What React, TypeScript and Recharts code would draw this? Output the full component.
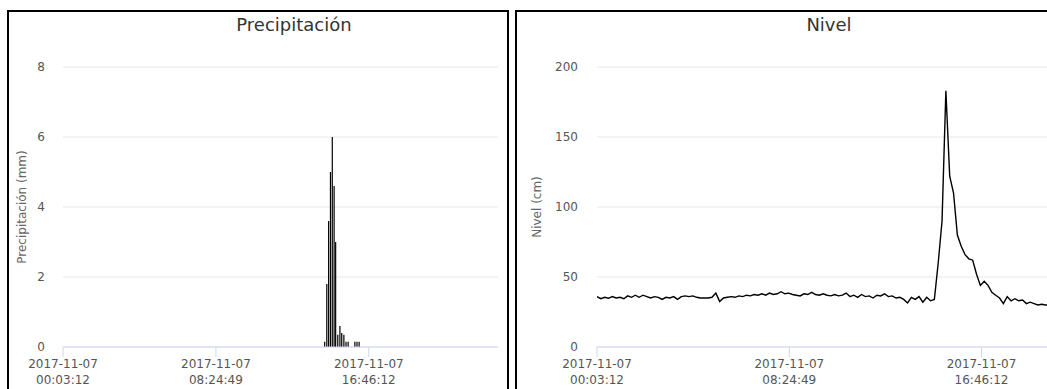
import React from 'react';
import { BarChart, Bar, LineChart, Line, XAxis, YAxis, CartesianGrid } from 'recharts';

// seconds since midnight, 2017-11-07
const START = 192; // 00:03:12
const END = 85800;
const X_TICKS = [192, 30289, 60372];
const TICK_DATE = '2017-11-07';

// precipitation (mm), only the non-zero records
const RAIN_TIMES = ['14:22', '14:29', '14:35', '14:41', '14:47', '14:53', '14:58', '15:05', '15:12', '15:18', '15:25', '15:32', '15:39', '16:01', '16:08', '16:15'];
const RAIN_MM = [0.15, 1.8, 3.6, 5.0, 6.0, 4.6, 3.0, 0.35, 0.6, 0.4, 0.35, 0.15, 0.15, 0.15, 0.15, 0.15];

// water level (cm), one reading every 10 min from 00:03:12
const LEVEL_STEP = 600;
const LEVEL_CM = [
  36, 34.5, 35.5, 34.8, 36, 35, 35.5, 34.5, 36.5, 35.5,
  37, 35.5, 37, 36, 35, 36, 35.5, 34, 35.5, 35,
  36, 34, 36, 36.5, 36, 36.5, 35.5, 35, 35, 35,
  35.5, 38.5, 32.5, 35, 35.5, 36, 35.5, 36.5, 36, 37,
  36.5, 37.5, 37, 38, 37, 38.5, 37.5, 38, 39.5, 38,
  38.5, 37.5, 37, 36.5, 38, 37.5, 39, 37.5, 37, 38,
  37, 36.5, 37.5, 36.5, 37, 38.5, 36, 37, 35.5, 37.5,
  36, 36.5, 35, 37, 36.5, 38, 36, 36.5, 35, 35.5,
  34, 31.5, 35.5, 34, 36, 32, 35.5, 33, 34, 60,
  90, 183, 122, 110, 80, 72, 66, 63, 62, 52,
  44, 47, 44, 39, 37, 35, 31, 36, 33, 34.5,
  33, 33.5, 31, 32, 31, 30, 30.5, 30, 30, 31, 30,
];

const toSec = (hm: string) => {
  const [h, m] = hm.split(':').map(Number);
  return h * 3600 + m * 60;
};

const rainData = RAIN_TIMES.map((t, i) => ({ t: toSec(t), mm: RAIN_MM[i] }));
const levelData = LEVEL_CM.map((v, i) => ({ t: START + i * LEVEL_STEP, cm: v }));

const pad = (n: number) => String(n).padStart(2, '0');
const fmtTime = (s: number) =>
  `${pad(Math.floor(s / 3600))}:${pad(Math.floor((s % 3600) / 60))}:${pad(s % 60)}`;

const TimeTick = ({ x, y, payload }: any) => (
  <text x={x} y={y} textAnchor="middle" fill="#555" fontSize={12}>
    <tspan x={x} dy={9}>{TICK_DATE}</tspan>
    <tspan x={x} dy={16}>{fmtTime(payload.value)}</tspan>
  </text>
);

const FONT = '"DejaVu Sans", sans-serif';
const margin = { top: 67, right: 12, left: 0, bottom: 13 };

const panel = (left: number, width: number): React.CSSProperties => ({
  position: 'absolute', left, top: 10, width, height: 420,
  border: '2px solid #000', boxSizing: 'border-box',
});

const title = (center: number): React.CSSProperties => ({
  position: 'absolute', left: center - 100, width: 200, top: 14, lineHeight: '21px',
  textAlign: 'center', fontSize: 18, color: '#333',
});

const xAxisProps = {
  type: 'number' as const,
  dataKey: 't',
  domain: [START, END],
  ticks: X_TICKS,
  interval: 0 as const,
  allowDataOverflow: true,
  stroke: '#ccd6eb',
  tickSize: 10,
  height: 40,
  tick: <TimeTick />,
};

const yTick = { fill: '#555', fontSize: 12 };

export default function App() {
  return (
    <div style={{ position: 'fixed', left: 0, top: 0, width: 1047, height: 389, overflow: 'hidden', background: '#fff', fontFamily: FONT }}>
      <div style={panel(7, 502)} />
      <div style={panel(515, 600)} />
      <div style={title(294)}>Precipitación</div>
      <div style={title(829)}>Nivel</div>

      <div style={{ position: 'absolute', left: 0, top: 0 }}>
        <BarChart width={510} height={400} data={rainData} margin={margin} style={{ fontFamily: FONT }}>
          <CartesianGrid vertical={false} stroke="#e6e6e6" />
          <XAxis {...xAxisProps} />
          <YAxis
            width={63}
            domain={[0, 8]}
            ticks={[0, 2, 4, 6, 8]}
            axisLine={false}
            tickLine={false}
            tickSize={0}
            tickMargin={18}
            tick={yTick}
            label={{ value: 'Precipitación (mm)', angle: -90, position: 'insideLeft', offset: 22, fontSize: 12, fill: '#666', style: { textAnchor: 'middle' } }}
          />
          <Bar dataKey="mm" fill="#000" barSize={1.2} isAnimationActive={false} />
        </BarChart>
      </div>

      <div style={{ position: 'absolute', left: 515, top: 0 }}>
        <LineChart width={641} height={400} data={levelData} margin={margin} style={{ fontFamily: FONT }}>
          <CartesianGrid vertical={false} stroke="#e6e6e6" />
          <XAxis {...xAxisProps} />
          <YAxis
            width={82}
            domain={[0, 200]}
            ticks={[0, 50, 100, 150, 200]}
            axisLine={false}
            tickLine={false}
            tickSize={0}
            tickMargin={19}
            tick={yTick}
            label={{ value: 'Nivel (cm)', angle: -90, position: 'insideLeft', offset: 22, fontSize: 12, fill: '#666', style: { textAnchor: 'middle' } }}
          />
          <Line dataKey="cm" type="linear" stroke="#000" strokeWidth={1.4} dot={false} isAnimationActive={false} />
        </LineChart>
      </div>
    </div>
  );
}
